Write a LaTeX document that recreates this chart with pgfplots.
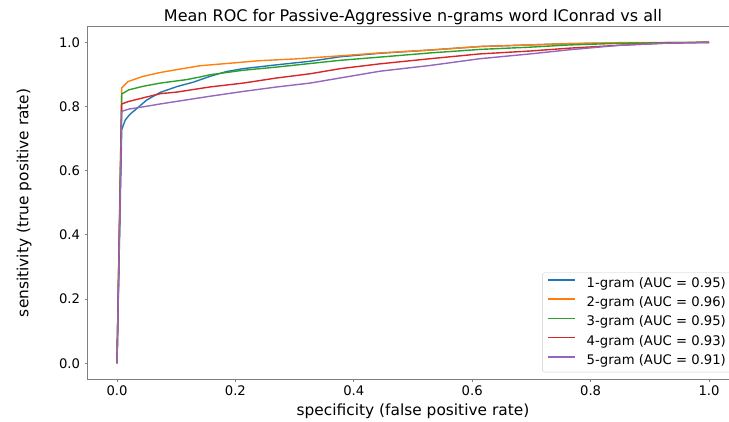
\documentclass[border=0pt]{standalone}
\usepackage{fontspec}
\setmainfont{DejaVu Sans}
\usepackage{pgfplots}
\pgfplotsset{compat=1.18}

\definecolor{cblue}{HTML}{1F77B4}
\definecolor{corange}{HTML}{FF7F0E}
\definecolor{cgreen}{HTML}{2CA02C}
\definecolor{cred}{HTML}{D62728}
\definecolor{cpurple}{HTML}{9467BD}
\definecolor{spine}{HTML}{808080}

\newcommand{\tickfont}{\fontsize{13.2}{15}\selectfont}
\newcommand{\labelfont}{\fontsize{15.4}{18}\selectfont}
\newcommand{\titlefont}{\fontsize{16}{19}\selectfont}

\pgfplotsset{
  roc/.style={color=#1, line width=1.4pt, line join=round},
}

\begin{document}
\begin{tikzpicture}
\begin{axis}[
  name=ax,
  scale only axis,
  width=651.2pt, height=353pt,
  xmin=-0.05, xmax=1.05, ymin=-0.05, ymax=1.05,
  xtick={0,0.2,0.4,0.6,0.8,1},
  xticklabels={0.0,0.2,0.4,0.6,0.8,1.0},
  ytick={0,0.2,0.4,0.6,0.8,1},
  yticklabels={0.0,0.2,0.4,0.6,0.8,1.0},
  tick pos=left,
  tick align=outside,
  major tick length=2.5pt,
  axis line style={spine, line width=0.8pt},
  tick style={spine, line width=0.8pt},
  tick label style={font=\tickfont},
  xticklabel style={inner sep=0pt, anchor=north, yshift=-4pt},
  yticklabel style={inner sep=0pt, anchor=east, xshift=-4.7pt},
  title={Mean ROC for Passive-Aggressive n-grams word IConrad vs all},
  title style={font=\titlefont, inner sep=0pt,
    at={([yshift=-1.5pt]axis description cs:0.5,1)}, anchor=base},
  xlabel={specificity (false positive rate)},
  xlabel style={font=\labelfont, inner sep=0pt,
    at={([yshift=-35.7pt]axis description cs:0.5,0)}, anchor=base},
  ylabel={sensitivity (true positive rate)},
  ylabel style={font=\labelfont, inner sep=0pt,
    at={([xshift=-58.9pt]axis description cs:0,0.5)}, anchor=base},
  legend cell align=left,
  legend image code/.code={
    \draw[#1, line width=1.4pt] (0pt,4pt) -- (27pt,4pt);
    \path (37.7pt,4pt);
  },
  legend style={
    at={(0.9885,0.0198)}, anchor=south east,
    font=\tickfont,
    draw=black!20, rounded corners=2pt, fill=white,
    inner sep=5pt, row sep=7.1pt,
    nodes={inner sep=0pt, text height=9.6pt, text depth=2.6pt},
  },
]

% 1-gram
\addplot[roc=cblue] coordinates {
  (0,0) (0.008,0.728) (0.014,0.758) (0.022,0.776) (0.033,0.793)
  (0.050,0.820) (0.073,0.844) (0.101,0.862) (0.129,0.876) (0.157,0.894)
  (0.185,0.909) (0.213,0.918) (0.270,0.930) (0.326,0.941) (0.377,0.955)
  (0.444,0.966) (0.529,0.976) (0.613,0.987) (0.698,0.992) (0.765,0.996)
  (0.850,0.998) (0.934,0.999) (1,1)
};
\addlegendentry{1-gram (AUC = 0.95)}

% 2-gram
\addplot[roc=corange] coordinates {
  (0,0) (0.008,0.858) (0.019,0.878) (0.044,0.894) (0.073,0.906)
  (0.101,0.915) (0.140,0.927) (0.185,0.934) (0.242,0.943) (0.298,0.948)
  (0.377,0.958) (0.444,0.967) (0.529,0.976) (0.613,0.987) (0.698,0.992)
  (0.765,0.996) (0.850,0.999) (0.934,0.999) (1,1)
};
\addlegendentry{2-gram (AUC = 0.96)}

% 3-gram
\addplot[roc=cgreen] coordinates {
  (0,0) (0.008,0.839) (0.020,0.852) (0.044,0.863) (0.073,0.873)
  (0.118,0.884) (0.140,0.892) (0.157,0.899) (0.213,0.913) (0.270,0.923)
  (0.377,0.944) (0.444,0.954) (0.529,0.967) (0.613,0.978) (0.698,0.985)
  (0.765,0.992) (0.850,0.997) (0.934,0.999) (1,1)
};
\addlegendentry{3-gram (AUC = 0.95)}

% 4-gram
\addplot[roc=cred] coordinates {
  (0,0) (0.008,0.808) (0.020,0.816) (0.044,0.827) (0.073,0.840)
  (0.101,0.845) (0.157,0.861) (0.213,0.873) (0.270,0.889) (0.326,0.902)
  (0.377,0.918) (0.444,0.933) (0.529,0.949) (0.613,0.964) (0.698,0.973)
  (0.765,0.982) (0.850,0.991) (0.934,0.998) (1,1)
};
\addlegendentry{4-gram (AUC = 0.93)}

% 5-gram
\addplot[roc=cpurple] coordinates {
  (0,0) (0.008,0.785) (0.020,0.792) (0.044,0.799) (0.073,0.808)
  (0.101,0.816) (0.157,0.832) (0.213,0.847) (0.270,0.861) (0.326,0.873)
  (0.377,0.889) (0.444,0.910) (0.529,0.928) (0.613,0.949) (0.698,0.964)
  (0.765,0.977) (0.850,0.991) (0.934,0.998) (1,1)
};
\addlegendentry{5-gram (AUC = 0.91)}

\end{axis}
\pgfresetboundingbox
\path[use as bounding box]
  ([shift={(-87.4pt,-41.7pt)}]ax.south west) rectangle ++(729pt,421pt);
\end{tikzpicture}
\end{document}
